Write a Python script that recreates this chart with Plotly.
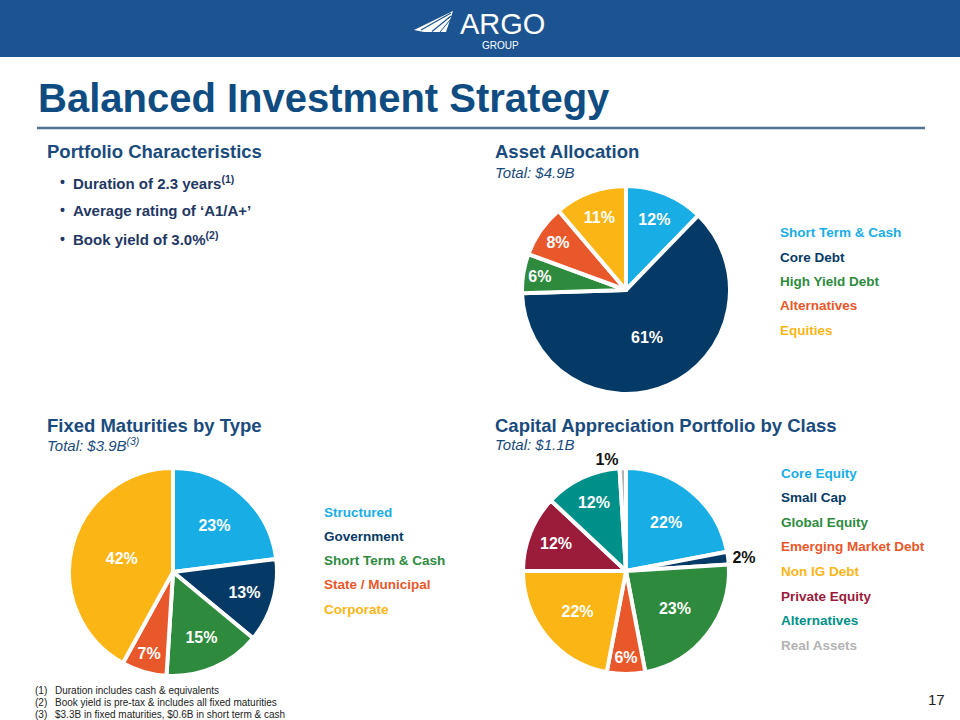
import plotly.graph_objects as go

W, H = 960, 720

# ---------------- data ----------------
asset_labels = ["Short Term & Cash", "Core Debt", "High Yield Debt", "Alternatives", "Equities"]
asset_values = [12, 61, 6, 8, 11]
asset_colors = ["#19ade6", "#063a66", "#2e8b3e", "#e8582a", "#fbb616"]

fixed_labels = ["Structured", "Government", "Short Term & Cash", "State / Municipal", "Corporate"]
fixed_values = [23, 13, 15, 7, 42]
fixed_colors = ["#19ade6", "#063a66", "#2e8b3e", "#e8582a", "#fbb616"]

cap_labels = ["Core Equity", "Small Cap", "Global Equity", "Emerging Market Debt",
              "Non IG Debt", "Private Equity", "Alternatives", "Real Assets"]
cap_values = [22, 2, 23, 6, 22, 12, 12, 1]
cap_colors = ["#19ade6", "#063a66", "#2e8b3e", "#e8582a", "#fbb616", "#9b1b3b", "#00908a", "#b3b3b3"]
cap_textpos = ["inside", "outside", "inside", "inside", "inside", "inside", "inside", "outside"]

bullets = ["Duration of 2.3 years<sup>(1)</sup>", "Average rating of ‘A1/A+’", "Book yield of 3.0%<sup>(2)</sup>"]
footnotes = ["Duration includes cash & equivalents",
             "Book yield is pre-tax & includes all fixed maturities",
             "$3.3B in fixed maturities, $0.6B in short term & cash"]

FONT = "Liberation Sans, Arial, sans-serif"
NAVY_T = "#1a4b7d"
TEXT_D = "#1f3864"
BAND = "#1c5491"


def px(x):
    return x / W


def py(y):
    return 1 - y / H


def dom(x0, x1, y0, y1):
    return dict(x=[px(x0), px(x1)], y=[py(y1), py(y0)])


fig = go.Figure()


def add_pie(labels, values, colors, domain, textpos="inside"):
    fig.add_trace(go.Pie(
        labels=labels, values=values, sort=False, direction="clockwise", rotation=0,
        marker=dict(colors=colors, line=dict(color="white", width=4)),
        texttemplate="%{value}%", textposition=textpos,
        insidetextorientation="horizontal",
        insidetextfont=dict(color="white", size=16, family=FONT, weight="bold"),
        outsidetextfont=dict(color="#111111", size=16, family=FONT, weight="bold"),
        domain=domain, showlegend=False, hoverinfo="label+percent",
    ))


add_pie(asset_labels, asset_values, asset_colors, dom(522, 730, 186, 394))
add_pie(fixed_labels, fixed_values, fixed_colors, dom(69, 277, 468, 676))
add_pie(cap_labels, cap_values, cap_colors, dom(523, 729, 468, 674), cap_textpos)

ann = []


def text(x, y, s, size, color, bold=False, italic=False, xanchor="left", family=FONT):
    ann.append(dict(
        x=px(x), y=py(y), xref="paper", yref="paper", text=s, showarrow=False,
        xanchor=xanchor, yanchor="middle",
        font=dict(family=family, size=size, color=color,
                  weight="bold" if bold else "normal",
                  style="italic" if italic else "normal"),
    ))


# logo
text(502, 24, "ARGO", 29, "white", xanchor="center")
text(500, 45, "GROUP", 10, "white", xanchor="center")

# title
text(36, 98, "Balanced Investment Strategy", 40, "#0f4c81", bold=True)

# Portfolio characteristics
text(45, 151, "Portfolio Characteristics", 18.5, NAVY_T, bold=True)
for i, b in enumerate(bullets):
    y = 182 + i * 28.5
    text(58, y, "•", 14, TEXT_D, bold=True)
    text(71, y, b, 15, TEXT_D, bold=True)

# Asset allocation
text(493, 151, "Asset Allocation", 18.5, NAVY_T, bold=True)
text(493, 172, "Total: $4.9B", 15, NAVY_T, italic=True)
for i, (lab, col) in enumerate(zip(asset_labels, asset_colors)):
    text(778, 233 + i * 24.3, lab, 13.5, col, bold=True)

# Fixed maturities
text(45, 425, "Fixed Maturities by Type", 18.5, NAVY_T, bold=True)
text(45, 444, "Total: $3.9B<sup>(3)</sup>", 15, NAVY_T, italic=True)
for i, (lab, col) in enumerate(zip(fixed_labels, fixed_colors)):
    text(322, 512 + i * 24.3, lab, 13.5, col, bold=True)

# Capital appreciation
text(493, 425, "Capital Appreciation Portfolio by Class", 18.5, NAVY_T, bold=True)
text(493, 444, "Total: $1.1B", 15, NAVY_T, italic=True)
for i, (lab, col) in enumerate(zip(cap_labels, cap_colors)):
    text(779, 473 + i * 24.6, lab, 13.5, col, bold=True)

# footnotes
for i, f in enumerate(footnotes):
    y = 690 + i * 12
    text(33, y, f"({i + 1})", 10, "#222222")
    text(53, y, f, 10, "#222222")

text(947, 699, "17", 15, "#222222", xanchor="right")

shapes = [
    dict(type="rect", xref="paper", yref="paper", x0=0, x1=1, y0=py(57), y1=1,
         fillcolor=BAND, line=dict(width=0), layer="below"),
    dict(type="line", xref="paper", yref="paper", x0=px(37), x1=px(925), y0=py(128), y1=py(128),
         line=dict(color="#4f7290", width=2.5)),
    # logo wing
    dict(type="path", xref="paper", yref="paper",
         path=f"M {px(414)} {py(30)} L {px(453)} {py(11)} L {px(446)} {py(32)} L {px(424)} {py(32)} Z",
         fillcolor="white", line=dict(width=0)),
    dict(type="line", xref="paper", yref="paper", x0=px(421), y0=py(30), x1=px(451), y1=py(13),
         line=dict(color=BAND, width=1.2)),
    dict(type="line", xref="paper", yref="paper", x0=px(432), y0=py(31.5), x1=px(451), y1=py(16),
         line=dict(color=BAND, width=1.2)),
    dict(type="line", xref="paper", yref="paper", x0=px(440), y0=py(32), x1=px(450), y1=py(20),
         line=dict(color=BAND, width=1.0)),
]

fig.update_layout(
    width=W, height=H, margin=dict(l=0, r=0, t=0, b=0),
    paper_bgcolor="white", plot_bgcolor="white",
    annotations=ann, shapes=shapes,
    font=dict(family=FONT),
)

fig.write_html(
    "out.html",
    config={"displayModeBar": False},
    post_script="document.body.style.margin='0';document.body.style.overflow='hidden';",
)
